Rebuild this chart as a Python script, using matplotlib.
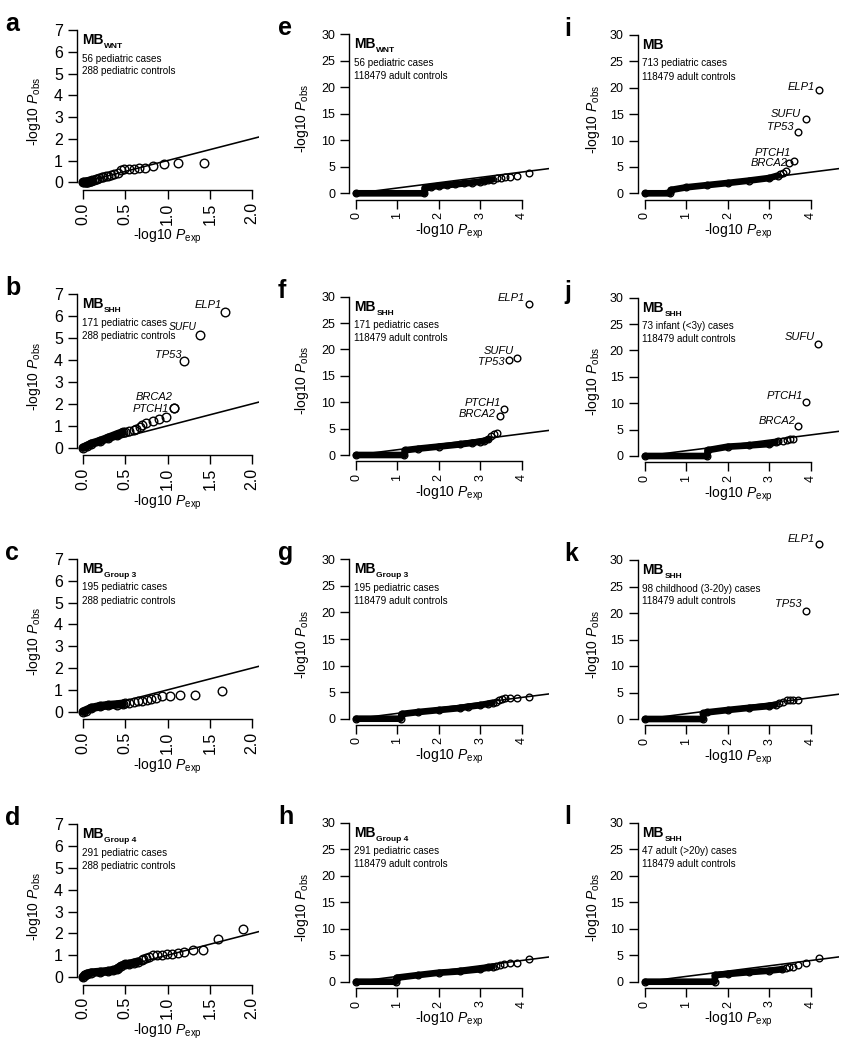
import matplotlib
matplotlib.use('Agg')
import matplotlib.pyplot as plt

plt.rcParams['font.family'] = ['Liberation Sans', 'DejaVu Sans']
plt.rcParams['mathtext.fontset'] = 'custom'
plt.rcParams['mathtext.rm'] = 'Liberation Sans'
plt.rcParams['mathtext.it'] = 'Liberation Sans:italic'
plt.rcParams['mathtext.bf'] = 'Liberation Sans:bold'

# ---------------- data ----------------
# panels a-d : 288 pediatric controls, x = -log10 Pexp, y = -log10 Pobs
a_band_x = [0.0, 0.03, 0.06, 0.1]
a_band_y = [0.0, 0.0, 0.02, 0.05]
a_x = [0.016, 0.03, 0.05, 0.07, 0.09, 0.11, 0.13, 0.15, 0.17, 0.19, 0.22, 0.24, 0.27, 0.30,
       0.33, 0.37, 0.41, 0.45, 0.49, 0.54, 0.60, 0.66, 0.73, 0.83, 0.96, 1.13, 1.43]
a_y = [0.0, 0.01, 0.02, 0.05, 0.07, 0.10, 0.12, 0.13, 0.17, 0.20, 0.23, 0.25, 0.28, 0.30,
       0.33, 0.37, 0.45, 0.57, 0.60, 0.60, 0.62, 0.64, 0.67, 0.73, 0.83, 0.87, 0.90]

b_band_x = [0.0, 0.05, 0.1, 0.2, 0.3, 0.4, 0.47]
b_band_y = [0.0, 0.08, 0.18, 0.30, 0.45, 0.60, 0.70]
b_x = [0.50, 0.55, 0.60, 0.63, 0.67, 0.70, 0.75, 0.83, 0.90, 0.98]
b_y = [0.72, 0.76, 0.80, 0.85, 0.96, 1.03, 1.11, 1.23, 1.31, 1.42]
b_genes = ['ELP1', 'SUFU', 'TP53', 'BRCA2', 'PTCH1']
b_gene_x = [1.68, 1.38, 1.20, 1.08, 1.08]
b_gene_y = [6.18, 5.14, 3.96, 1.83, 1.83]

c_band_x = [0.0, 0.03, 0.1, 0.2, 0.3, 0.4, 0.47]
c_band_y = [0.0, 0.05, 0.17, 0.25, 0.30, 0.33, 0.36]
c_x = [0.50, 0.55, 0.60, 0.65, 0.70, 0.76, 0.80, 0.86, 0.93, 1.03, 1.15, 1.33, 1.64]
c_y = [0.38, 0.42, 0.45, 0.48, 0.50, 0.54, 0.58, 0.64, 0.72, 0.72, 0.76, 0.76, 0.95]

d_band_x = [0.0, 0.02, 0.05, 0.1, 0.2, 0.3, 0.35, 0.4, 0.42, 0.45, 0.5, 0.55, 0.6, 0.65]
d_band_y = [0.0, 0.10, 0.15, 0.20, 0.23, 0.27, 0.30, 0.35, 0.42, 0.50, 0.58, 0.60, 0.65, 0.70]
d_x = [0.70, 0.71, 0.74, 0.78, 0.83, 0.88, 0.94, 0.99, 1.05, 1.12, 1.20, 1.30, 1.42, 1.60, 1.89]
d_y = [0.80, 0.84, 0.87, 0.90, 0.99, 1.02, 1.02, 1.05, 1.07, 1.10, 1.14, 1.22, 1.25, 1.75, 2.20]

# panels e-l : 118479 adult controls
e_band_x = [0.0, 1.65, 1.66, 1.8, 2.0, 2.2, 2.4, 2.6, 2.8, 3.0, 3.1, 3.2, 3.3]
e_band_y = [0.0, 0.0, 1.05, 1.2, 1.4, 1.55, 1.7, 1.85, 2.0, 2.2, 2.35, 2.5, 2.6]
e_x = [3.41, 3.50, 3.59, 3.71, 3.88, 4.18]
e_y = [2.83, 2.96, 3.02, 3.14, 3.33, 3.77]

f_band_x = [0.0, 1.17, 1.18, 1.5, 2.0, 2.5, 2.8, 3.0, 3.1, 3.2]
f_band_y = [0.0, 0.0, 0.9, 1.2, 1.6, 2.0, 2.3, 2.55, 2.7, 3.0]
f_x = [3.26, 3.33, 3.40]
f_y = [3.66, 3.90, 4.23]
f_genes = ['ELP1', 'SUFU', 'TP53', 'PTCH1', 'BRCA2']
f_gene_x = [4.18, 3.88, 3.69, 3.58, 3.48]
f_gene_y = [28.7, 18.4, 17.95, 8.8, 7.45]

g_band_x = [0.0, 1.08, 1.1, 1.5, 2.0, 2.5, 2.7, 3.0, 3.2, 3.3]
g_band_y = [0.0, 0.0, 0.88, 1.25, 1.63, 2.0, 2.25, 2.55, 2.85, 3.0]
g_x = [3.39, 3.45, 3.52, 3.61, 3.73, 3.90, 4.19]
g_y = [3.20, 3.50, 3.70, 3.83, 3.95, 3.95, 4.02]

h_band_x = [0.0, 0.97, 0.98, 1.5, 2.0, 2.5, 3.0, 3.2, 3.3]
h_band_y = [0.0, 0.0, 0.75, 1.25, 1.7, 1.95, 2.35, 2.7, 2.85]
h_x = [3.37, 3.47, 3.57, 3.71, 3.90, 4.19]
h_y = [3.00, 3.14, 3.33, 3.46, 3.58, 4.28]

i_band_x = [0.0, 0.6, 0.62, 1.0, 1.5, 2.0, 2.5, 3.0, 3.2]
i_band_y = [0.0, 0.0, 0.63, 1.14, 1.55, 1.96, 2.4, 2.9, 3.35]
i_x = [3.26, 3.32, 3.40]
i_y = [3.66, 3.80, 4.30]
i_genes = ['ELP1', 'SUFU', 'TP53', 'PTCH1', 'BRCA2']
i_gene_x = [4.20, 3.89, 3.70, 3.60, 3.48]
i_gene_y = [19.6, 14.1, 11.7, 6.1, 5.7]

j_band_x = [0.0, 1.5, 1.51, 2.0, 2.5, 3.0, 3.15]
j_band_y = [0.0, 0.0, 1.1, 1.77, 2.0, 2.27, 2.6]
j_x = [3.22, 3.32, 3.42, 3.50, 3.58]
j_y = [2.84, 2.90, 3.03, 3.16, 3.22]
j_genes = ['SUFU', 'PTCH1', 'BRCA2']
j_gene_x = [4.17, 3.88, 3.70]
j_gene_y = [21.16, 10.17, 5.75]

k_band_x = [0.0, 1.4, 1.41, 1.5, 2.0, 2.5, 3.0, 3.15]
k_band_y = [0.0, 0.0, 1.07, 1.26, 1.7, 2.1, 2.45, 2.7]
k_x = [3.24, 3.32, 3.42, 3.50, 3.58, 3.70]
k_y = [2.96, 3.27, 3.58, 3.58, 3.58, 3.58]
k_genes = ['ELP1', 'TP53']
k_gene_x = [4.20, 3.89]
k_gene_y = [33.0, 20.38]

l_band_x = [0.0, 1.68, 1.69, 2.0, 2.5, 3.0, 3.3]
l_band_y = [0.0, 0.0, 1.26, 1.45, 1.8, 2.08, 2.35]
l_x = [3.40, 3.48, 3.58, 3.70, 3.89, 4.19]
l_y = [2.52, 2.70, 2.83, 3.14, 3.58, 4.53]

ped_xticks = [0.0, 0.5, 1.0, 1.5, 2.0]
ped_xticklabels = ['0.0', '0.5', '1.0', '1.5', '2.0']
ped_yticks = [0, 1, 2, 3, 4, 5, 6, 7]
adu_xticks = [0, 1, 2, 3, 4]
adu_yticks = [0, 5, 10, 15, 20, 25, 30]

titles_sub = ['WNT', 'SHH', 'Group 3', 'Group 4', 'WNT', 'SHH', 'Group 3', 'Group 4',
              '', 'SHH', 'SHH', 'SHH']
line1 = ['56 pediatric cases', '171 pediatric cases', '195 pediatric cases', '291 pediatric cases',
         '56 pediatric cases', '171 pediatric cases', '195 pediatric cases', '291 pediatric cases',
         '713 pediatric cases', '73 infant (<3y) cases', '98 childhood (3-20y) cases',
         '47 adult (>20y) cases']
line2 = ['288 pediatric controls'] * 4 + ['118479 adult controls'] * 8
letters = list('abcdefghijkl')

# ---------------- layout (pixels in the 849x1050 canvas) ----------------
W, H = 849, 1050
fig = plt.figure(figsize=(W / 100, H / 100), dpi=100)

cols = [
    dict(L=77.0, X0=83.0, ux=84.5, xend=2.08, yt=7, tfs=11.5, ylab_dx=43, xlab_dy=50, ms=6.2),
    dict(L=349.3, X0=356.0, ux=41.4, xend=4.67, yt=30, tfs=9.0, ylab_dx=47, xlab_dy=35, ms=4.8),
    dict(L=637.5, X0=645.0, ux=41.45, xend=4.67, yt=30, tfs=9.0, ylab_dx=44, xlab_dy=35, ms=4.8),
]
rows = {
    'a': (182.3, 30.0), 'b': (447.7, 294.3), 'c': (711.7, 559.0), 'd': (977.0, 824.3),
    'e': (193.3, 34.3), 'f': (455.0, 296.7), 'g': (718.7, 559.3), 'h': (981.7, 822.7),
    'i': (193.3, 35.0), 'j': (456.0, 297.7), 'k': (719.0, 560.0), 'l': (981.7, 822.7),
}
letter_x = [5, 278, 564]

# gene label offsets in pixels (dx, dy, fontsize); text is right/baseline aligned
gene_off = {
    'b': [(-3, 4, 8), (-3, 5, 7.4), (-3, 3, 8), (-2, 8, 8), (-5, -4, 8)],
    'f': [(-4, 3, 8), (-3, 4, 8), (-4, -5, 8), (-3, 3, 8), (-4, -1, 8)],
    'i': [(-4, 0, 8), (-5, 2, 8), (-5, 2, 8), (-3, 5, 8), (-2, -3, 8)],
    'j': [(-3, 4, 8), (-3, 3, 8), (-3, 2, 8)],
    'k': [(-4, 2, 8), (-5, 4, 8)],
}

data = {
    'a': (a_band_x, a_band_y, a_x, a_y, None),
    'b': (b_band_x, b_band_y, b_x, b_y, (b_genes, b_gene_x, b_gene_y)),
    'c': (c_band_x, c_band_y, c_x, c_y, None),
    'd': (d_band_x, d_band_y, d_x, d_y, None),
    'e': (e_band_x, e_band_y, e_x, e_y, None),
    'f': (f_band_x, f_band_y, f_x, f_y, (f_genes, f_gene_x, f_gene_y)),
    'g': (g_band_x, g_band_y, g_x, g_y, None),
    'h': (h_band_x, h_band_y, h_x, h_y, None),
    'i': (i_band_x, i_band_y, i_x, i_y, (i_genes, i_gene_x, i_gene_y)),
    'j': (j_band_x, j_band_y, j_x, j_y, (j_genes, j_gene_x, j_gene_y)),
    'k': (k_band_x, k_band_y, k_x, k_y, (k_genes, k_gene_x, k_gene_y)),
    'l': (l_band_x, l_band_y, l_x, l_y, None),
}


def fx(px):
    return px / W


def fy(py):
    return 1 - py / H


renderer = fig.canvas.get_renderer()

for idx, let in enumerate(letters):
    ci = idx // 4
    c = cols[ci]
    Y0, Ytop = rows[let]
    ymax = c['yt']
    uy = (Y0 - Ytop) / ymax
    B = Y0 + (7.5 if ci == 0 else 6.3)
    ytop_val = ymax * 1.04
    top_px = Y0 - ytop_val * uy
    right_px = c['X0'] + c['xend'] * c['ux']
    ax = fig.add_axes([fx(c['L']), fy(B), (right_px - c['L']) / W, (B - top_px) / H])
    ax.set_xlim(-(c['X0'] - c['L']) / c['ux'], c['xend'])
    ax.set_ylim(-(B - Y0) / uy, ytop_val)
    ax.patch.set_visible(False)
    for s in ('top', 'right'):
        ax.spines[s].set_visible(False)
    for s in ('left', 'bottom'):
        ax.spines[s].set_linewidth(1.0)
    if ci == 0:
        ax.set_xticks(ped_xticks)
        ax.set_xticklabels(ped_xticklabels)
        ax.set_yticks(ped_yticks)
        ax.spines['bottom'].set_bounds(0, 2)
        ax.spines['left'].set_bounds(0, 7)
    else:
        ax.set_xticks(adu_xticks)
        ax.set_yticks(adu_yticks)
        ax.spines['bottom'].set_bounds(0, 4)
        ax.spines['left'].set_bounds(0, 30)
    ax.tick_params(direction='out', length=6.5, width=1.0, labelsize=c['tfs'], pad=3.5)
    ax.tick_params(axis='x', labelrotation=90, pad=2.5)

    bx, by, px_, py_, genes = data[let]
    ms = c['ms']
    ax.plot([0, c['xend']], [0, c['xend']], color='black', lw=1.15, clip_on=True, zorder=1)
    ax.plot(bx, by, '-', color='black', lw=ms, solid_capstyle='round',
            solid_joinstyle='round', clip_on=False, zorder=2)
    ax.plot(bx, by, 'o', mfc='none', mec='black', ms=ms, mew=1.0, clip_on=False, zorder=3)
    ax.plot(px_, py_, 'o', mfc='none', mec='black', ms=ms, mew=1.0, clip_on=False, zorder=3)
    if genes is not None:
        names, gx, gy = genes
        ax.plot(gx, gy, 'o', mfc='none', mec='black', ms=ms, mew=1.0, clip_on=False, zorder=3)
        for n, x, y, (dx, dy, gfs) in zip(names, gx, gy, gene_off[let]):
            ax.annotate(n, (x, y), xytext=(dx, dy), textcoords='offset pixels',
                        ha='right', va='baseline', fontsize=gfs, style='italic',
                        annotation_clip=False)

    cx = (c['L'] + right_px) / 2
    fig.text(fx(cx), fy(B + c['xlab_dy']), r'-log10 $\mathit{P}_{\mathrm{exp}}$',
             ha='center', va='baseline', fontsize=10)
    fig.text(fx(c['L'] - c['ylab_dx']), fy((B + top_px) / 2 + 5),
             r'-log10 $\mathit{P}_{\mathrm{obs}}$',
             ha='center', va='center', rotation=90, fontsize=10)

    fig.text(fx(letter_x[ci]), fy(Ytop + 1), let, fontsize=18, fontweight='bold',
             ha='left', va='baseline')

    tx = c['L'] + 5
    mb_base = Ytop + 14
    t = fig.text(fx(tx), fy(mb_base), 'MB', fontsize=10, fontweight='bold',
                 ha='left', va='baseline')
    if titles_sub[idx]:
        bb = t.get_window_extent(renderer=renderer)
        fig.text(fx(bb.x1 + 0.5), fy(mb_base + 4), titles_sub[idx], fontsize=6,
                 fontweight='bold', ha='left', va='baseline')
    fig.text(fx(tx), fy(mb_base + 17.5), line1[idx], fontsize=7.1, ha='left', va='baseline')
    fig.text(fx(tx), fy(mb_base + 30.5), line2[idx], fontsize=7.1, ha='left', va='baseline')

fig.savefig('out.png', dpi=100)
